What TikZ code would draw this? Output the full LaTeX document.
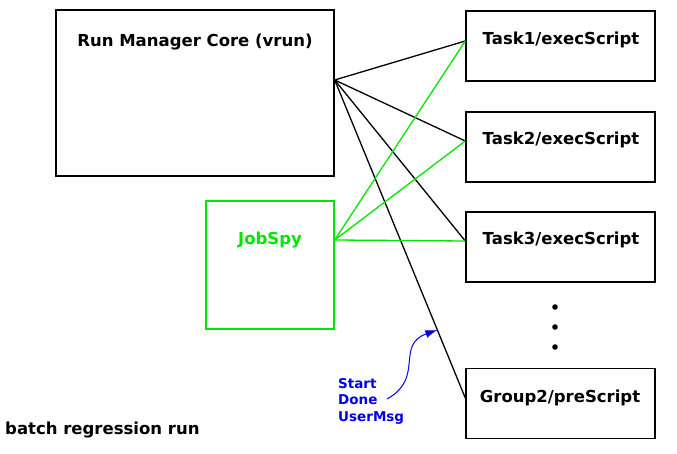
\documentclass[tikz,border=0pt]{standalone}
\usepackage{fontspec}
\usepackage{tikz}
\usetikzlibrary{positioning,arrows.meta}
\setmainfont{DejaVu Sans}
\definecolor{spygreen}{RGB}{0,230,0}
\definecolor{msgblue}{RGB}{0,0,230}
\tikzset{
  box/.style={draw,line width=1.4pt,inner sep=0pt},
  lbl/.style={font=\bfseries\fontsize{16.5}{18}\selectfont},
  link/.style={line width=1.3pt},
}
\begin{document}
\begin{tikzpicture}[x=1pt,y=-1pt]
    \useasboundingbox (0,0) rectangle (677,454);

    \node[box,minimum width=278pt,minimum height=166pt] (core) at (195,93) {};
    \node[lbl,below=21pt of core.north] (core-title) {Run Manager Core (vrun)};

    \node[box,draw=spygreen,minimum width=128pt,minimum height=128pt] (spy) at (270,265) {};
    \node[lbl,text=spygreen] (spy-title) at (270,240) {JobSpy};

    \begin{scope}[every node/.style={box,minimum width=189pt,minimum height=70pt}]
    \node (task1) at (560.5,46) {};
    \node (task2) at (560.5,147) {};
    \node (task3) at (560.5,247) {};
    \node (group2) at (560.5,403.5) {};
    \end{scope}
    \node[lbl] at (561,40) {Task1/execScript};
    \node[lbl] at (561,140) {Task2/execScript};
    \node[lbl] at (561,240) {Task3/execScript};
    \node[lbl] at (560,398) {Group2/preScript};

    \foreach \y in {307,327,347} \fill (555,\y) circle (2.8pt);

    \coordinate (core-hub) at ([yshift=13pt]core.east);
    \coordinate (spy-hub) at ([yshift=25pt]spy.east);

    \draw[link] (core-hub) -- ([yshift=5pt]task1.west);
    \draw[link] (core-hub) -- ([yshift=6pt]task2.west);
    \draw[link] (core-hub) -- ([yshift=6pt]task3.west);
    \draw[link] (core-hub) -- ([yshift=5.5pt]group2.west) coordinate[pos=0.786] (msg);

    \draw[link,spygreen] (spy-hub) -- ([yshift=5pt]task1.west);
    \draw[link,spygreen] (spy-hub) -- ([yshift=6pt]task2.west);
    \draw[link,spygreen] (spy-hub) -- ([yshift=6pt]task3.west);

    \node[lbl,text=msgblue,font=\bfseries\fontsize{13.5}{16.5}\selectfont,align=left,anchor=north west,inner sep=0pt] (msgs) at (338,378) {Start\\Done\\UserMsg};
    \draw[msgblue,line width=1pt,-{Latex[length=12pt,width=8pt]}] (387,399)..controls (425,378) and (395,345)..(msg);

    \node[lbl,anchor=west,inner sep=0pt] (caption) at (5,430) {batch regression run};

  \end{tikzpicture}
\end{document}
